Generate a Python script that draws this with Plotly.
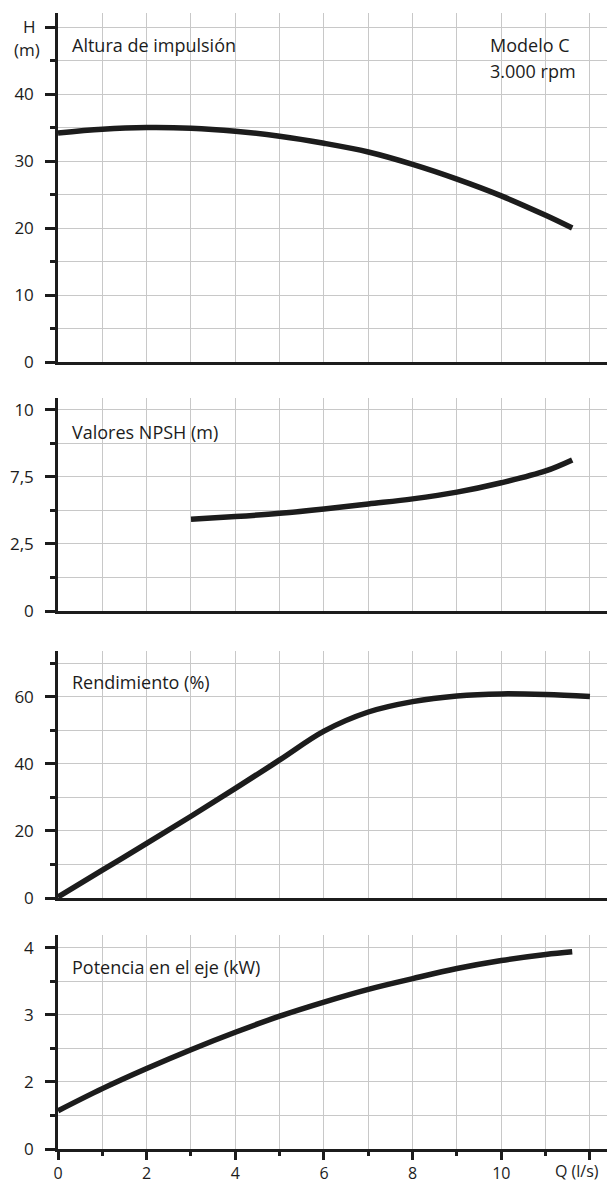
import plotly.graph_objects as go
from plotly.subplots import make_subplots

# Flow rate Q (l/s) sample points for each characteristic curve
q_head = [0, 1, 2, 3, 4, 5, 6, 7, 8, 9, 10, 11, 11.6]
head_m = [34.2, 34.75, 35.0, 34.9, 34.45, 33.7, 32.65, 31.35, 29.5, 27.3, 24.8, 21.9, 20.0]

q_npsh = [3, 4, 5, 6, 7, 8, 9, 10, 11, 11.6]
npsh_m = [5.92, 6.02, 6.14, 6.30, 6.49, 6.68, 6.93, 7.28, 7.72, 8.13]

q_eff = [0, 1, 2, 3, 4, 5, 6, 7, 8, 9, 10, 11, 12]
eff_pct = [0.3, 8.3, 16.3, 24.4, 32.7, 41.2, 49.8, 55.5, 58.6, 60.3, 60.9, 60.7, 60.1]

q_power = [0, 1, 2, 3, 4, 5, 6, 7, 8, 9, 10, 11, 11.6]
power_kw = [1.57, 1.90, 2.20, 2.48, 2.74, 2.98, 3.19, 3.38, 3.54, 3.69, 3.81, 3.90, 3.94]

# Axis ticks
q_ticks = [0, 2, 4, 6, 8, 10, 12]
q_tick_text = ["0", "2", "4", "6", "8", "10", ""]
head_ticks = [0, 10, 20, 30, 40, 50]
head_tick_text = ["0", "10", "20", "30", "40", ""]
npsh_ticks = [2.5, 5, 7.5, 10]
npsh_tick_text = ["0", "2,5", "7,5", "10"]
eff_ticks = [0, 20, 40, 60]
eff_tick_text = ["0", "20", "40", "60"]
power_ticks = [1, 2, 3, 4]
power_tick_text = ["0", "2", "3", "4"]

INK = "#1c1c1c"
GRID = "#c8c8c8"
FONT = "Open Sans"

W, H = 607, 1184
ML, MR, MT, MB = 58, 0, 13, 35
PW = W - ML - MR
PH = H - MT - MB


def py(px):
    """Vertical pixel position -> paper fraction."""
    return (H - MB - px) / PH


def pxx(px):
    """Horizontal pixel position -> paper fraction."""
    return (px - ML) / PW


fig = make_subplots(rows=4, cols=1, shared_xaxes=False, vertical_spacing=0.0)

domains = [
    [py(362), py(13)],
    [py(611), py(398)],
    [py(898), py(651)],
    [0.0, py(935)],
]

curves = [
    (q_head, head_m),
    (q_npsh, npsh_m),
    (q_eff, eff_pct),
    (q_power, power_kw),
]

for i, (xs, ys) in enumerate(curves, start=1):
    fig.add_trace(
        go.Scatter(
            x=xs, y=ys, mode="lines",
            line=dict(color=INK, width=5.5, shape="spline", smoothing=1.0),
            hoverinfo="skip", showlegend=False,
        ),
        row=i, col=1,
    )

x_range = [0, PW / 44.33]

y_specs = [
    dict(range=[0, 52.1], tickvals=head_ticks, ticktext=head_tick_text, minor_dtick=5, minor_tick0=0),
    dict(range=[2.5, 10.44], tickvals=npsh_ticks, ticktext=npsh_tick_text, minor_dtick=1.25, minor_tick0=0),
    dict(range=[0, 73.7], tickvals=eff_ticks, ticktext=eff_tick_text, minor_dtick=10, minor_tick0=0),
    dict(range=[1, 4.19], tickvals=power_ticks, ticktext=power_tick_text, minor_dtick=0.5, minor_tick0=0),
]

tick_font = dict(family=FONT, size=17, color=INK)
xtick_font = dict(family=FONT, size=16, color=INK)
label_font = dict(family=FONT, size=18, color=INK)

for i in range(1, 5):
    xname = "xaxis" if i == 1 else f"xaxis{i}"
    yname = "yaxis" if i == 1 else f"yaxis{i}"
    bottom = i == 4
    fig.layout[xname].update(
        range=x_range, domain=[0, 1], automargin=False,
        showline=True, linewidth=2.5, linecolor=INK,
        showgrid=True, gridcolor=GRID, gridwidth=1,
        zeroline=False,
        tickmode="array", tickvals=q_ticks, ticktext=q_tick_text,
        ticks="outside" if bottom else "", ticklen=8, tickwidth=2.5, tickcolor=INK,
        showticklabels=bottom,
        tickfont=xtick_font,
        ticklabelstandoff=0,
        minor=dict(dtick=1, tick0=0, showgrid=True, gridcolor=GRID, gridwidth=1,
                   ticks="outside" if bottom else "", ticklen=4, tickwidth=2.5, tickcolor=INK),
        fixedrange=True,
    )
    s = y_specs[i - 1]
    fig.layout[yname].update(
        domain=domains[i - 1], range=s["range"], automargin=False,
        showline=True, linewidth=2.5, linecolor=INK,
        showgrid=True, gridcolor=GRID, gridwidth=1,
        zeroline=False,
        tickmode="array", tickvals=s["tickvals"], ticktext=s["ticktext"],
        ticks="outside", ticklen=10, tickwidth=2.5, tickcolor=INK,
        tickfont=tick_font,
        ticklabelstandoff=8,
        minor=dict(dtick=s["minor_dtick"], tick0=s["minor_tick0"], showgrid=True,
                   gridcolor=GRID, gridwidth=1,
                   ticks="outside", ticklen=5, tickwidth=2.5, tickcolor=INK),
        fixedrange=True,
    )

annotations = [
    dict(text="Altura de impulsión", x=pxx(70), y=py(45), xanchor="left", yanchor="middle", font=label_font),
    dict(text="Modelo C", x=pxx(488), y=py(45), xanchor="left", yanchor="middle", font=label_font),
    dict(text="3.000 rpm", x=pxx(488), y=py(71), xanchor="left", yanchor="middle", font=label_font),
    dict(text="Valores NPSH (m)", x=pxx(70), y=py(432), xanchor="left", yanchor="middle", font=label_font),
    dict(text="Rendimiento (%)", x=pxx(70), y=py(682), xanchor="left", yanchor="middle", font=label_font),
    dict(text="Potencia en el eje (kW)", x=pxx(70), y=py(967), xanchor="left", yanchor="middle", font=label_font),
    dict(text="H", x=pxx(29.5), y=py(26.5), xanchor="center", yanchor="middle", font=tick_font),
    dict(text="(m)", x=pxx(27), y=py(50), xanchor="center", yanchor="middle", font=tick_font),
    dict(text="Q (l/s)", x=pxx(601), y=py(1171), xanchor="right", yanchor="middle", font=xtick_font),
]
for a in annotations:
    a.update(xref="paper", yref="paper", showarrow=False)

fig.update_layout(
    width=W, height=H,
    margin=dict(l=ML, r=MR, t=MT, b=MB, pad=0, autoexpand=False),
    paper_bgcolor="white", plot_bgcolor="white",
    annotations=annotations,
    showlegend=False,
)

fig.write_html("out.html", config={"displayModeBar": False})
